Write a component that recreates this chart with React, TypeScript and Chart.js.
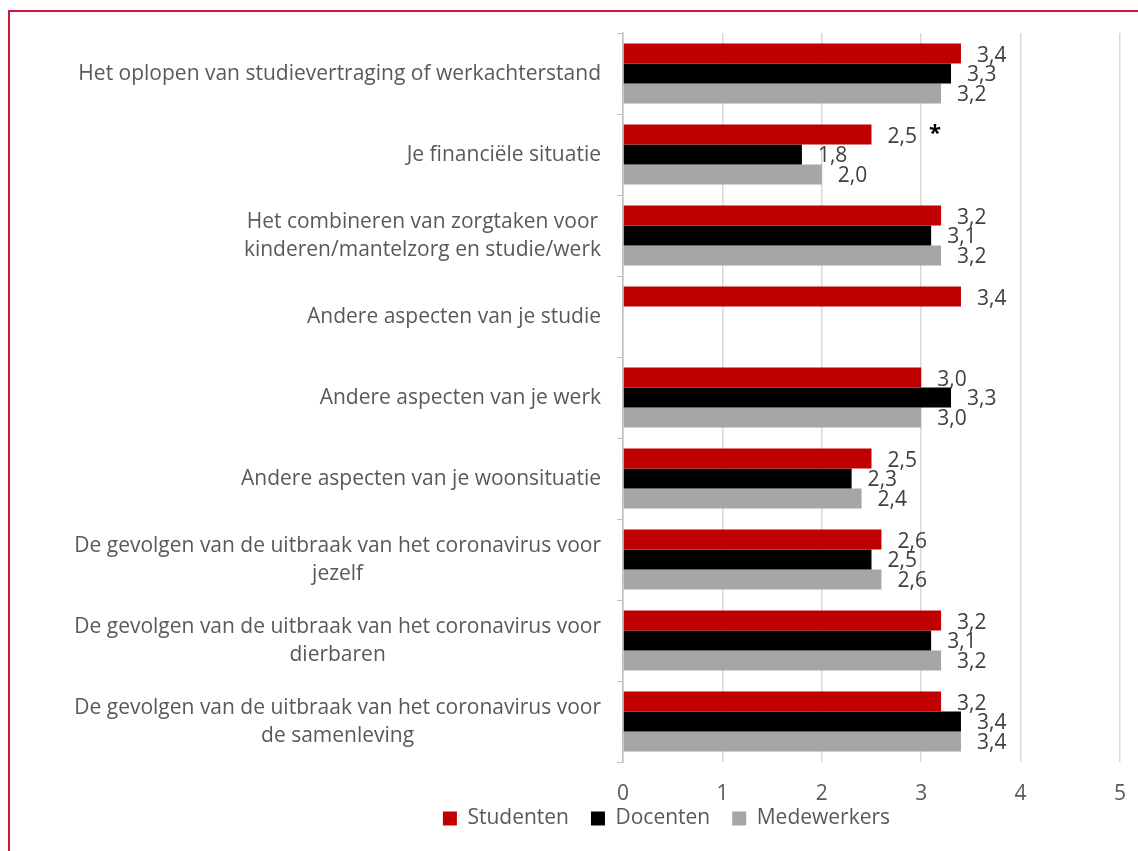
import React, { useEffect, useRef } from "react";
import { Chart, registerables } from "chart.js";

Chart.register(...registerables);

const categories: string[][] = [
  ["Het oplopen van studievertraging of werkachterstand"],
  ["Je financiële situatie"],
  ["Het combineren van zorgtaken voor", "kinderen/mantelzorg en studie/werk"],
  ["Andere aspecten van je studie"],
  ["Andere aspecten van je werk"],
  ["Andere aspecten van je woonsituatie"],
  ["De gevolgen van de uitbraak van het coronavirus voor", "jezelf"],
  ["De gevolgen van de uitbraak van het coronavirus voor", "dierbaren"],
  ["De gevolgen van de uitbraak van het coronavirus voor", "de samenleving"],
];

const studenten: (number | null)[] = [3.4, 2.5, 3.2, 3.4, 3.0, 2.5, 2.6, 3.2, 3.2];
const docenten: (number | null)[] = [3.3, 1.8, 3.1, null, 3.3, 2.3, 2.5, 3.1, 3.4];
const medewerkers: (number | null)[] = [3.2, 2.0, 3.2, null, 3.0, 2.4, 2.6, 3.2, 3.4];

const seriesNames = ["Studenten", "Docenten", "Medewerkers"];
const seriesColors = ["#c00000", "#000000", "#a6a6a6"];

const xMin = 0;
const xMax = 5;
const xStep = 1;

// significance marker: [category index, dataset index, text]
const markers: { cat: number; ds: number; text: string }[] = [{ cat: 1, ds: 0, text: "*" }];

const FONT = "'Open Sans', sans-serif";
const TEXT = "#595959";
const FS = 21;

const fmt = (v: number) => v.toFixed(1).replace(".", ",");

const customPlugin = {
  id: "customText",
  afterDraw(chart: any) {
    const ctx = chart.ctx;
    const yScale = chart.scales.y;
    const xScale = chart.scales.x;
    // category labels
    ctx.save();
    ctx.font = `${FS}px ${FONT}`;
    ctx.fillStyle = TEXT;
    ctx.textBaseline = "middle";
    ctx.textAlign = "center";
    const rightEdge = yScale.right - 22;
    const lh = 28;
    categories.forEach((lines, i) => {
      const yc = yScale.getPixelForValue(i);
      const maxW = Math.max(...lines.map((l) => ctx.measureText(l).width));
      const cx = rightEdge - maxW / 2;
      const y0 = yc - ((lines.length - 1) * lh) / 2 + 1;
      lines.forEach((l, j) => ctx.fillText(l, cx, y0 + j * lh));
    });
    // x tick labels
    xScale.ticks.forEach((t: any) => {
      ctx.fillText(String(t.value), xScale.getPixelForValue(t.value), xScale.top + 32);
    });
    ctx.restore();

    // data labels
    ctx.save();
    ctx.font = `${FS}px ${FONT}`;
    ctx.fillStyle = "#404040";
    ctx.textBaseline = "middle";
    ctx.textAlign = "left";
    chart.data.datasets.forEach((ds: any, di: number) => {
      const meta = chart.getDatasetMeta(di);
      meta.data.forEach((bar: any, i: number) => {
        const v = ds.data[i];
        if (v === null || v === undefined) return;
        ctx.fillText(fmt(v), bar.x + 16, bar.y + 2);
      });
    });
    // markers
    markers.forEach((m) => {
      const bar = chart.getDatasetMeta(m.ds).data[m.cat];
      const v = chart.data.datasets[m.ds].data[m.cat];
      ctx.font = `${FS}px ${FONT}`;
      const w = ctx.measureText(fmt(v)).width;
      ctx.font = `bold 22px ${FONT}`;
      ctx.fillStyle = "#000000";
      ctx.fillText(m.text, bar.x + 16 + w + 12, bar.y - 1);
    });
    ctx.restore();
  },
};

export default function App() {
  const ref = useRef<HTMLCanvasElement>(null);
  useEffect(() => {
    if (!ref.current) return;
    const chart = new Chart(ref.current, {
      type: "bar",
      data: {
        labels: categories.map((c) => c.join(" ")),
        datasets: [studenten, docenten, medewerkers].map((d, i) => ({
          label: seriesNames[i],
          data: d,
          backgroundColor: seriesColors[i],
          borderWidth: 0,
          categoryPercentage: 0.74,
          barPercentage: 1,
        })),
      },
      options: {
        indexAxis: "y",
        animation: false,
        responsive: false,
        maintainAspectRatio: false,
        layout: { padding: { top: 21, right: 18, left: 203, bottom: 12 } },
        plugins: {
          tooltip: { enabled: false },
          legend: {
            position: "bottom",
            labels: {
              boxWidth: 14,
              boxHeight: 14,
              padding: 22,
              color: TEXT,
              font: { family: FONT, size: FS },
            },
          },
        },
        scales: {
          x: {
            min: xMin,
            max: xMax,
            afterFit: (scale: any) => {
              scale.height = 24;
            },
            grid: { color: "#d9d9d9", lineWidth: 1.5, drawTicks: false },
            border: { display: false },
            ticks: {
              stepSize: xStep,
              display: false,
            },
          },
          y: {
            afterFit: (scale: any) => {
              scale.width = 410;
            },
            grid: { drawOnChartArea: false, drawTicks: true, tickLength: 6, color: "#bfbfbf", offset: true },
            border: { display: true, color: "#bfbfbf", width: 1.5 },
            ticks: { display: false },
          },
        },
      },
      plugins: [customPlugin],
    });
    return () => chart.destroy();
  }, []);
  return (
    <div
      style={{
        position: "absolute",
        left: 8,
        top: 10,
        width: 1130,
        height: 841,
        borderTop: "2px solid #d3143c",
        borderLeft: "2px solid #d3143c",
        boxSizing: "border-box",
        background: "#fff",
        overflow: "hidden",
      }}
    >
      <canvas ref={ref} width={1128} height={839} style={{ display: "block", width: 1128, height: 839 }} />
    </div>
  );
}
